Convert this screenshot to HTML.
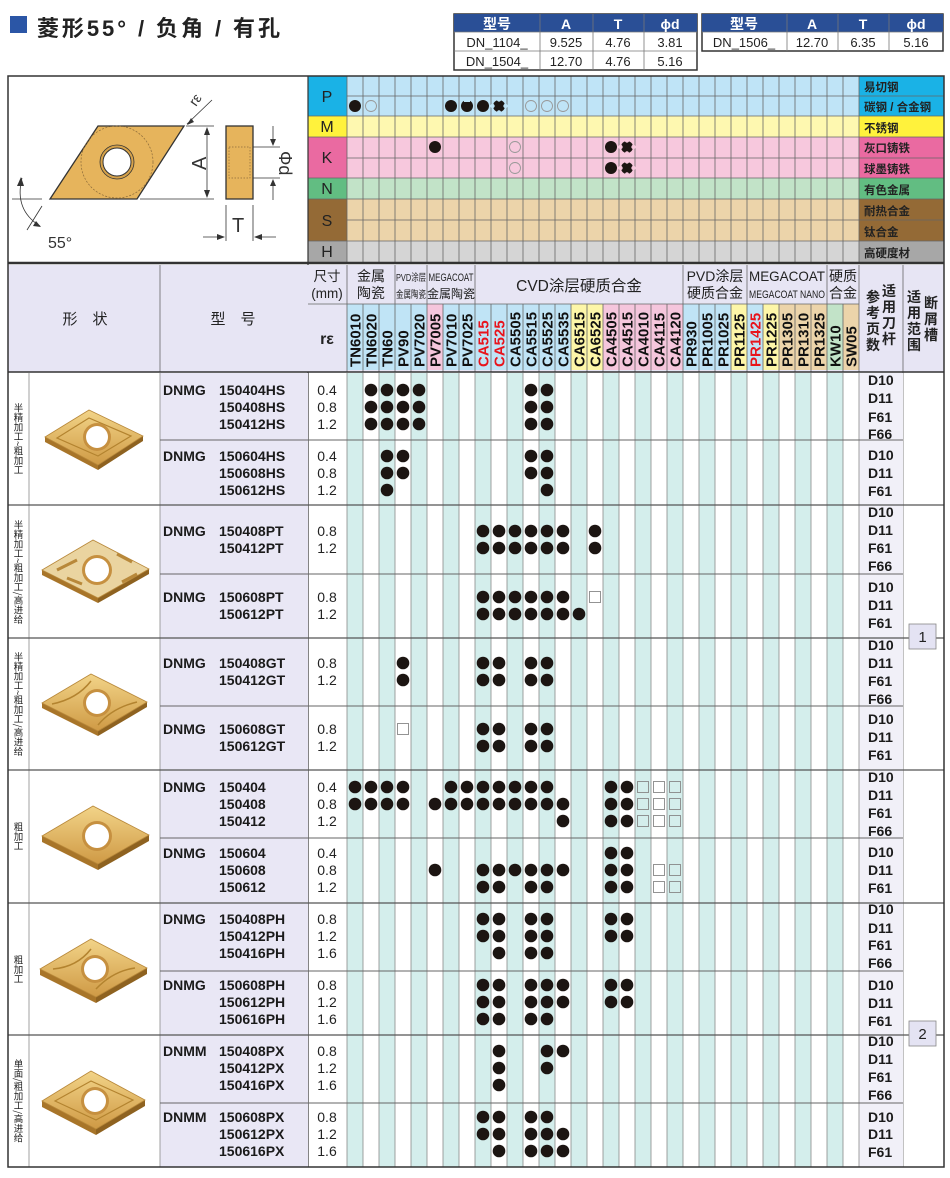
<!DOCTYPE html>
<html><head><meta charset="utf-8">
<style>
html,body{margin:0;padding:0;background:#fff;}
body{width:950px;height:1178px;position:relative;overflow:hidden;font-family:"Liberation Sans","Noto Sans CJK SC",sans-serif;}
svg{position:absolute;left:0;top:0;}
svg text{font-family:"Liberation Sans","Noto Sans CJK SC",sans-serif;}
.vl{position:absolute;left:8px;width:21px;display:flex;align-items:center;justify-content:center;}
.vl span{writing-mode:vertical-rl;font-size:9.5px;line-height:10px;color:#222;font-family:"Noto Sans CJK SC",sans-serif;}
</style></head><body>
<svg width="950" height="1178" viewBox="0 0 950 1178" xmlns="http://www.w3.org/2000/svg">
<defs>
<linearGradient id="gold" x1="0" y1="0" x2="0" y2="1">
<stop offset="0" stop-color="#f2d488"/><stop offset="1" stop-color="#cf9a45"/></linearGradient>
</defs>
<!-- title -->
<rect x="10" y="16" width="17" height="17" fill="#2b56a6"/>
<text x="37" y="36" font-size="22" font-weight="bold" fill="#222" textLength="243" font-family="Liberation Sans,Noto Sans CJK SC,sans-serif">菱形55° / 负角 / 有孔</text>

<!-- dim table 1 -->
<g font-size="13" text-anchor="middle">
<rect x="454" y="14" width="243" height="56" fill="#fff" stroke="#333" stroke-width="1.5"/>
<rect x="454" y="14" width="243" height="18" fill="#2a4f96"/>
<g stroke="#777" stroke-width="0.8"><line x1="454" y1="51" x2="697" y2="51"/><line x1="454" y1="32" x2="697" y2="32"/>
<line x1="540" y1="14" x2="540" y2="70"/><line x1="593" y1="14" x2="593" y2="70"/><line x1="644" y1="14" x2="644" y2="70"/></g>
<g fill="#fff" font-weight="bold" font-size="14"><text x="497" y="29">型号</text><text x="566" y="29">A</text><text x="618" y="29">T</text><text x="670" y="29">ϕd</text></g>
<g fill="#222"><text x="497" y="47">DN_1104_</text><text x="566" y="47">9.525</text><text x="618" y="47">4.76</text><text x="670" y="47">3.81</text>
<text x="497" y="66">DN_1504_</text><text x="566" y="66">12.70</text><text x="618" y="66">4.76</text><text x="670" y="66">5.16</text></g>
<!-- dim table 2 -->
<rect x="702" y="14" width="241" height="37" fill="#fff" stroke="#333" stroke-width="1.5"/>
<rect x="702" y="14" width="241" height="18" fill="#2a4f96"/>
<g stroke="#777" stroke-width="0.8"><line x1="702" y1="32" x2="943" y2="32"/>
<line x1="787" y1="14" x2="787" y2="51"/><line x1="838" y1="14" x2="838" y2="51"/><line x1="889" y1="14" x2="889" y2="51"/></g>
<g fill="#fff" font-weight="bold" font-size="14"><text x="744" y="29">型号</text><text x="812" y="29">A</text><text x="863" y="29">T</text><text x="916" y="29">ϕd</text></g>
<g fill="#222"><text x="744" y="47">DN_1506_</text><text x="812" y="47">12.70</text><text x="863" y="47">6.35</text><text x="916" y="47">5.16</text></g>
</g>

<!-- main frame bg -->
<rect x="8" y="76" width="936" height="1091" fill="#fff"/>

<!-- material grid -->
<g>
<rect x="347" y="76" width="512" height="40" fill="#bfe4f7"/>
<rect x="347" y="116" width="512" height="21" fill="#fef8b0"/>
<rect x="347" y="137" width="512" height="41" fill="#f7c8dd"/>
<rect x="347" y="178" width="512" height="21" fill="#c2e3c8"/>
<rect x="347" y="199" width="512" height="42" fill="#ecd4aa"/>
<rect x="347" y="241" width="512" height="21" fill="#d5d5d5"/>
<rect x="308" y="76" width="39" height="40" fill="#1ab2e6"/>
<rect x="308" y="116" width="39" height="21" fill="#fff23c"/>
<rect x="308" y="137" width="39" height="41" fill="#ea6aa1"/>
<rect x="308" y="178" width="39" height="21" fill="#62bd82"/>
<rect x="308" y="199" width="39" height="42" fill="#946a36"/>
<rect x="308" y="241" width="39" height="21" fill="#a7a7a7"/>
<rect x="859" y="76" width="85" height="40" fill="#1ab2e6"/>
<rect x="859" y="116" width="85" height="21" fill="#fff23c"/>
<rect x="859" y="137" width="85" height="41" fill="#ea6aa1"/>
<rect x="859" y="178" width="85" height="21" fill="#62bd82"/>
<rect x="859" y="199" width="85" height="42" fill="#946a36"/>
<rect x="859" y="241" width="85" height="21" fill="#a7a7a7"/>
<g stroke="#666" stroke-width="0.8">
<line x1="347" y1="96" x2="944" y2="96"/><line x1="308" y1="116" x2="944" y2="116"/><line x1="308" y1="137" x2="944" y2="137"/>
<line x1="347" y1="158" x2="944" y2="158"/><line x1="308" y1="178" x2="944" y2="178"/><line x1="308" y1="199" x2="944" y2="199"/>
<line x1="347" y1="220" x2="944" y2="220"/><line x1="308" y1="241" x2="944" y2="241"/>
<line x1="347" y1="76" x2="347" y2="262"/><line x1="363" y1="76" x2="363" y2="262"/><line x1="379" y1="76" x2="379" y2="262"/><line x1="395" y1="76" x2="395" y2="262"/>
<line x1="411" y1="76" x2="411" y2="262"/><line x1="427" y1="76" x2="427" y2="262"/><line x1="443" y1="76" x2="443" y2="262"/><line x1="459" y1="76" x2="459" y2="262"/>
<line x1="475" y1="76" x2="475" y2="262"/><line x1="491" y1="76" x2="491" y2="262"/><line x1="507" y1="76" x2="507" y2="262"/><line x1="523" y1="76" x2="523" y2="262"/>
<line x1="539" y1="76" x2="539" y2="262"/><line x1="555" y1="76" x2="555" y2="262"/><line x1="571" y1="76" x2="571" y2="262"/><line x1="587" y1="76" x2="587" y2="262"/>
<line x1="603" y1="76" x2="603" y2="262"/><line x1="619" y1="76" x2="619" y2="262"/><line x1="635" y1="76" x2="635" y2="262"/><line x1="651" y1="76" x2="651" y2="262"/>
<line x1="667" y1="76" x2="667" y2="262"/><line x1="683" y1="76" x2="683" y2="262"/><line x1="699" y1="76" x2="699" y2="262"/><line x1="715" y1="76" x2="715" y2="262"/>
<line x1="731" y1="76" x2="731" y2="262"/><line x1="747" y1="76" x2="747" y2="262"/><line x1="763" y1="76" x2="763" y2="262"/><line x1="779" y1="76" x2="779" y2="262"/>
<line x1="795" y1="76" x2="795" y2="262"/><line x1="811" y1="76" x2="811" y2="262"/><line x1="827" y1="76" x2="827" y2="262"/><line x1="843" y1="76" x2="843" y2="262"/>
<line x1="859" y1="76" x2="859" y2="262"/>
</g>
<g font-size="16" fill="#222" text-anchor="middle">
<text x="327" y="102">P</text><text x="327" y="132">M</text><text x="327" y="163">K</text><text x="327" y="194">N</text><text x="327" y="226">S</text><text x="327" y="257">H</text>
</g>
<g font-size="11.5" font-weight="bold" fill="#222">
<text x="864" y="91">易切钢</text><text x="864" y="111">碳钢 / 合金钢</text><text x="864" y="132">不锈钢</text>
<text x="864" y="152">灰口铸铁</text><text x="864" y="173">球墨铸铁</text><text x="864" y="194">有色金属</text>
<text x="864" y="215">耐热合金</text><text x="864" y="236">钛合金</text><text x="864" y="257">高硬度材</text>
</g>
<!-- material symbols -->
<g fill="#1c1512">
<circle cx="355" cy="106" r="6"/><circle cx="451" cy="106" r="6"/><circle cx="467" cy="106" r="6"/><circle cx="483" cy="106" r="6"/><circle cx="499" cy="106" r="6"/>
<circle cx="435" cy="147" r="6"/><circle cx="611" cy="147" r="6"/><circle cx="627" cy="147" r="6"/>
<circle cx="611" cy="168" r="6"/><circle cx="627" cy="168" r="6"/>
</g>
<g fill="#bfe4f7"><rect x="464" y="99" width="6" height="3"/><circle cx="499" cy="99.5" r="2.2"/><circle cx="499" cy="112.5" r="2.2"/><circle cx="492.5" cy="106" r="2.2"/><circle cx="505.5" cy="106" r="2.2"/></g>
<g fill="#f7c8dd"><circle cx="627" cy="140.5" r="2.2"/><circle cx="627" cy="153.5" r="2.2"/><circle cx="620.5" cy="147" r="2.2"/><circle cx="633.5" cy="147" r="2.2"/>
<circle cx="627" cy="161.5" r="2.2"/><circle cx="627" cy="174.5" r="2.2"/><circle cx="620.5" cy="168" r="2.2"/><circle cx="633.5" cy="168" r="2.2"/></g>
<g fill="none" stroke="#999" stroke-width="0.9">
<circle cx="371" cy="106" r="5.5"/><circle cx="531" cy="106" r="5.5"/><circle cx="547" cy="106" r="5.5"/><circle cx="563" cy="106" r="5.5"/>
<circle cx="515" cy="147" r="5.5"/><circle cx="515" cy="168" r="5.5"/>
</g>

<!-- top-left diagram -->
<polygon points="50,199 98,126 184,126 137,199" fill="#e6b45c" stroke="#333" stroke-width="1.3"/>
<circle cx="117" cy="162" r="36" fill="none" stroke="#8a6a3a" stroke-width="0.7" stroke-dasharray="2,1.5"/>
<circle cx="117" cy="162" r="17" fill="#d6a24a" stroke="#333" stroke-width="0.8"/>
<circle cx="117" cy="162" r="14" fill="#fff" stroke="#333" stroke-width="1"/>
<g stroke="#333" stroke-width="0.8" fill="none">
<line x1="186" y1="126" x2="214" y2="126"/><line x1="140" y1="199" x2="214" y2="199"/>
<line x1="207" y1="128" x2="207" y2="197"/>
<line x1="187" y1="124" x2="212" y2="100"/>
<line x1="253" y1="147" x2="280" y2="147"/><line x1="253" y1="178" x2="280" y2="178"/>
<line x1="273" y1="126" x2="273" y2="145"/><line x1="273" y1="180" x2="273" y2="200"/>
<line x1="226" y1="205" x2="226" y2="241"/><line x1="253" y1="205" x2="253" y2="241"/>
<line x1="203" y1="237" x2="224" y2="237"/><line x1="255" y1="237" x2="276" y2="237"/>
<line x1="12" y1="199" x2="42" y2="199"/>
<path d="M22,178 Q14,210 40,226"/>
<line x1="27" y1="230" x2="42" y2="206"/>
</g>
<g fill="#333">
<polygon points="207,127 204,135 210,135"/><polygon points="207,198 204,190 210,190"/>
<polygon points="187,125 191,118 194,122"/>
<polygon points="273,146 270,139 276,139"/><polygon points="273,179 270,186 276,186"/>
<polygon points="225,237 217,234 217,240"/><polygon points="254,237 262,234 262,240"/>
<polygon points="41,227 33,226 36,221"/><polygon points="17,186 21,177 24,186"/>
</g>
<rect x="226" y="126" width="27" height="73" fill="#e6b45c" stroke="#333" stroke-width="1.3"/>
<rect x="229" y="147" width="21" height="31" fill="none" stroke="#8a6a3a" stroke-width="0.7" stroke-dasharray="1.5,1.5"/>
<text x="0" y="0" font-size="20" fill="#333" transform="translate(206,170) rotate(-90)">A</text>
<text x="0" y="0" font-size="18" fill="#333" transform="translate(279,151) rotate(90)">Φd</text>
<text x="232" y="232" font-size="20" fill="#333">T</text>
<text x="0" y="0" font-size="14" fill="#333" transform="translate(196,107) rotate(-55)">rε</text>
<text x="48" y="248" font-size="16" fill="#333">55°</text>

<!-- frame lines top -->
<line x1="308" y1="76" x2="308" y2="1167" stroke="#333" stroke-width="1.2"/>
<line x1="8" y1="263" x2="944" y2="263" stroke="#333" stroke-width="2.5"/>

<!-- lower header -->
<rect x="8" y="265" width="936" height="107" fill="#e7e5f4"/>
<rect x="347" y="304" width="16" height="66" fill="#c0e4f6"/><rect x="363" y="304" width="16" height="66" fill="#c0e4f6"/><rect x="379" y="304" width="16" height="66" fill="#c0e4f6"/>
<rect x="395" y="304" width="16" height="66" fill="#c0e4f6"/><rect x="411" y="304" width="16" height="66" fill="#c0e4f6"/>
<rect x="427" y="304" width="16" height="66" fill="#f5c6dc"/>
<rect x="443" y="304" width="32" height="66" fill="#c0e4f6"/>
<rect x="475" y="304" width="96" height="66" fill="#c0e4f6"/>
<rect x="571" y="304" width="32" height="66" fill="#fdf6a8"/>
<rect x="603" y="304" width="80" height="66" fill="#f5c6dc"/>
<rect x="683" y="304" width="48" height="66" fill="#c0e4f6"/>
<rect x="731" y="304" width="16" height="66" fill="#fdf6a8"/>
<rect x="747" y="304" width="16" height="66" fill="#c0e4f6"/>
<rect x="763" y="304" width="16" height="66" fill="#fdf6a8"/>
<rect x="779" y="304" width="48" height="66" fill="#ecd4aa"/>
<rect x="827" y="304" width="16" height="66" fill="#c2e3c8"/>
<rect x="843" y="304" width="16" height="66" fill="#ecd4aa"/>
<g stroke="#666" stroke-width="0.8">
<line x1="308" y1="304" x2="859" y2="304"/>
<line x1="160" y1="265" x2="160" y2="372"/>
<line x1="347" y1="265" x2="347" y2="372"/><line x1="395" y1="265" x2="395" y2="372"/><line x1="427" y1="265" x2="427" y2="372"/><line x1="475" y1="265" x2="475" y2="372"/>
<line x1="683" y1="265" x2="683" y2="372"/><line x1="747" y1="265" x2="747" y2="372"/><line x1="827" y1="265" x2="827" y2="372"/><line x1="859" y1="265" x2="859" y2="372"/><line x1="903" y1="265" x2="903" y2="1167"/>
<line x1="363" y1="304" x2="363" y2="372"/><line x1="379" y1="304" x2="379" y2="372"/><line x1="411" y1="304" x2="411" y2="372"/><line x1="443" y1="304" x2="443" y2="372"/><line x1="459" y1="304" x2="459" y2="372"/>
<line x1="491" y1="304" x2="491" y2="372"/><line x1="507" y1="304" x2="507" y2="372"/><line x1="523" y1="304" x2="523" y2="372"/><line x1="539" y1="304" x2="539" y2="372"/><line x1="555" y1="304" x2="555" y2="372"/>
<line x1="571" y1="304" x2="571" y2="372"/><line x1="587" y1="304" x2="587" y2="372"/><line x1="603" y1="304" x2="603" y2="372"/><line x1="619" y1="304" x2="619" y2="372"/><line x1="635" y1="304" x2="635" y2="372"/>
<line x1="651" y1="304" x2="651" y2="372"/><line x1="667" y1="304" x2="667" y2="372"/><line x1="699" y1="304" x2="699" y2="372"/><line x1="715" y1="304" x2="715" y2="372"/><line x1="731" y1="304" x2="731" y2="372"/>
<line x1="763" y1="304" x2="763" y2="372"/><line x1="779" y1="304" x2="779" y2="372"/><line x1="795" y1="304" x2="795" y2="372"/><line x1="811" y1="304" x2="811" y2="372"/><line x1="843" y1="304" x2="843" y2="372"/>
</g>
<g fill="#222" text-anchor="middle">
<text x="85" y="324" font-size="15">形　状</text>
<text x="233" y="324" font-size="15">型　号</text>
<text x="327" y="281" font-size="13.5">尺寸</text><text x="327" y="298" font-size="13.5">(mm)</text>
<text x="327" y="344" font-size="16" font-weight="bold">rε</text>
<text x="371" y="281" font-size="14">金属</text><text x="371" y="298" font-size="14">陶瓷</text>
<text x="411" y="281" font-size="10" textLength="30" lengthAdjust="spacingAndGlyphs">PVD涂层</text><text x="411" y="298" font-size="10" textLength="30" lengthAdjust="spacingAndGlyphs">金属陶瓷</text>
<text x="451" y="281" font-size="11" textLength="45" lengthAdjust="spacingAndGlyphs">MEGACOAT</text><text x="451" y="298" font-size="12">金属陶瓷</text>
<text x="579" y="291" font-size="15.5">CVD涂层硬质合金</text>
<text x="715" y="281" font-size="14">PVD涂层</text><text x="715" y="298" font-size="14">硬质合金</text>
<text x="787" y="281" font-size="14" textLength="76" lengthAdjust="spacingAndGlyphs">MEGACOAT</text><text x="787" y="298" font-size="11" textLength="76" lengthAdjust="spacingAndGlyphs">MEGACOAT NANO</text>
<text x="843" y="281" font-size="14">硬质</text><text x="843" y="298" font-size="14">合金</text>
<g font-size="14" font-weight="bold">
<text x="873" y="302">参</text><text x="873" y="318">考</text><text x="873" y="334">页</text><text x="873" y="350">数</text>
<text x="889" y="296">适</text><text x="889" y="312">用</text><text x="889" y="328">刀</text><text x="889" y="344">杆</text>
<text x="914" y="302">适</text><text x="914" y="318">用</text><text x="914" y="334">范</text><text x="914" y="350">围</text>
<text x="931" y="308">断</text><text x="931" y="324">屑</text><text x="931" y="340">槽</text>
</g>
</g>
<g font-size="15" font-weight="bold" fill="#111">
<text transform="translate(360.5,367) rotate(-90)">TN6010</text>
<text transform="translate(376.5,367) rotate(-90)">TN6020</text>
<text transform="translate(392.5,367) rotate(-90)">TN60</text>
<text transform="translate(408.5,367) rotate(-90)">PV90</text>
<text transform="translate(424.5,367) rotate(-90)">PV7020</text>
<text transform="translate(440.5,367) rotate(-90)">PV7005</text>
<text transform="translate(456.5,367) rotate(-90)">PV7010</text>
<text transform="translate(472.5,367) rotate(-90)">PV7025</text>
<text transform="translate(488.5,367) rotate(-90)" fill="#e8141c">CA515</text>
<text transform="translate(504.5,367) rotate(-90)" fill="#e8141c">CA525</text>
<text transform="translate(520.5,367) rotate(-90)">CA5505</text>
<text transform="translate(536.5,367) rotate(-90)">CA5515</text>
<text transform="translate(552.5,367) rotate(-90)">CA5525</text>
<text transform="translate(568.5,367) rotate(-90)">CA5535</text>
<text transform="translate(584.5,367) rotate(-90)">CA6515</text>
<text transform="translate(600.5,367) rotate(-90)">CA6525</text>
<text transform="translate(616.5,367) rotate(-90)">CA4505</text>
<text transform="translate(632.5,367) rotate(-90)">CA4515</text>
<text transform="translate(648.5,367) rotate(-90)">CA4010</text>
<text transform="translate(664.5,367) rotate(-90)">CA4115</text>
<text transform="translate(680.5,367) rotate(-90)">CA4120</text>
<text transform="translate(696.5,367) rotate(-90)">PR930</text>
<text transform="translate(712.5,367) rotate(-90)">PR1005</text>
<text transform="translate(728.5,367) rotate(-90)">PR1025</text>
<text transform="translate(744.5,367) rotate(-90)">PR1125</text>
<text transform="translate(760.5,367) rotate(-90)" fill="#e8141c">PR1425</text>
<text transform="translate(776.5,367) rotate(-90)">PR1225</text>
<text transform="translate(792.5,367) rotate(-90)">PR1305</text>
<text transform="translate(808.5,367) rotate(-90)">PR1310</text>
<text transform="translate(824.5,367) rotate(-90)">PR1325</text>
<text transform="translate(840.5,367) rotate(-90)">KW10</text>
<text transform="translate(856.5,367) rotate(-90)">SW05</text>
</g>
<line x1="8" y1="372" x2="944" y2="372" stroke="#333" stroke-width="1.5"/>

<!-- body backgrounds -->
<rect x="160" y="373" width="148" height="794" fill="#e9e7f5"/>
<rect x="859" y="373" width="44" height="794" fill="#f1f0f8"/>
<g fill="#d4eeec">
<rect x="347" y="373" width="16" height="794"/><rect x="379" y="373" width="16" height="794"/><rect x="411" y="373" width="16" height="794"/><rect x="443" y="373" width="16" height="794"/>
<rect x="475" y="373" width="16" height="794"/><rect x="507" y="373" width="16" height="794"/><rect x="539" y="373" width="16" height="794"/><rect x="571" y="373" width="16" height="794"/>
<rect x="603" y="373" width="16" height="794"/><rect x="635" y="373" width="16" height="794"/><rect x="667" y="373" width="16" height="794"/><rect x="699" y="373" width="16" height="794"/>
<rect x="731" y="373" width="16" height="794"/><rect x="763" y="373" width="16" height="794"/><rect x="795" y="373" width="16" height="794"/><rect x="827" y="373" width="16" height="794"/>
</g>
<g stroke="#8a8a8a" stroke-width="0.8">
<line x1="29" y1="373" x2="29" y2="1167"/><line x1="160" y1="373" x2="160" y2="1167"/>
<line x1="347" y1="373" x2="347" y2="1167"/><line x1="363" y1="373" x2="363" y2="1167"/><line x1="379" y1="373" x2="379" y2="1167"/><line x1="395" y1="373" x2="395" y2="1167"/>
<line x1="411" y1="373" x2="411" y2="1167"/><line x1="427" y1="373" x2="427" y2="1167"/><line x1="443" y1="373" x2="443" y2="1167"/><line x1="459" y1="373" x2="459" y2="1167"/>
<line x1="475" y1="373" x2="475" y2="1167"/><line x1="491" y1="373" x2="491" y2="1167"/><line x1="507" y1="373" x2="507" y2="1167"/><line x1="523" y1="373" x2="523" y2="1167"/>
<line x1="539" y1="373" x2="539" y2="1167"/><line x1="555" y1="373" x2="555" y2="1167"/><line x1="571" y1="373" x2="571" y2="1167"/><line x1="587" y1="373" x2="587" y2="1167"/>
<line x1="603" y1="373" x2="603" y2="1167"/><line x1="619" y1="373" x2="619" y2="1167"/><line x1="635" y1="373" x2="635" y2="1167"/><line x1="651" y1="373" x2="651" y2="1167"/>
<line x1="667" y1="373" x2="667" y2="1167"/><line x1="683" y1="373" x2="683" y2="1167"/><line x1="699" y1="373" x2="699" y2="1167"/><line x1="715" y1="373" x2="715" y2="1167"/>
<line x1="731" y1="373" x2="731" y2="1167"/><line x1="747" y1="373" x2="747" y2="1167"/><line x1="763" y1="373" x2="763" y2="1167"/><line x1="779" y1="373" x2="779" y2="1167"/>
<line x1="795" y1="373" x2="795" y2="1167"/><line x1="811" y1="373" x2="811" y2="1167"/><line x1="827" y1="373" x2="827" y2="1167"/><line x1="843" y1="373" x2="843" y2="1167"/>
<line x1="859" y1="373" x2="859" y2="1167"/>
</g>
<g stroke="#666" stroke-width="0.9">
<line x1="160" y1="440" x2="903" y2="440"/><line x1="160" y1="574" x2="903" y2="574"/><line x1="160" y1="706" x2="903" y2="706"/>
<line x1="160" y1="838" x2="903" y2="838"/><line x1="160" y1="971" x2="903" y2="971"/><line x1="160" y1="1103" x2="903" y2="1103"/>
</g>
<g stroke="#555" stroke-width="1.2">
<line x1="8" y1="505" x2="944" y2="505"/><line x1="8" y1="638" x2="944" y2="638"/><line x1="8" y1="770" x2="944" y2="770"/>
<line x1="8" y1="903" x2="944" y2="903"/><line x1="8" y1="1035" x2="944" y2="1035"/>
</g>

<!-- inserts -->
<g id="ins">
<g transform="translate(97,437)">
<polygon points="-52,0 1,28 1,33 -52,5" fill="#a87529"/><polygon points="1,28 46,-1 46,4 1,33" fill="#8e6220"/>
<polygon points="-52,0 -8,-27 46,-1 1,28" fill="url(#gold)" stroke="#b8883a" stroke-width="0.8"/>
<path d="M-40,1 L-8,-19 L34,-1 L1,19 Z" fill="none" stroke="#b3832f" stroke-width="1.2"/>
<circle r="14" fill="#c69040"/><circle r="11" fill="#fff"/>
</g>
<g transform="translate(97,570)">
<polygon points="-55,0 1,28 1,33 -55,5" fill="#a87529"/><polygon points="1,28 52,-1 52,4 1,33" fill="#8e6220"/>
<polygon points="-55,0 -4,-30 52,-1 1,28" fill="#ead4a0" stroke="#b8883a" stroke-width="0.8"/>
<path d="M-40,0 L-20,-10 M-30,8 L-15,14 M20,-16 L35,-8 M25,12 L40,4" stroke="#b8883a" stroke-width="3"/>
<circle r="15" fill="#c69040"/><circle r="12" fill="#fff"/>
</g>
<g transform="translate(97,703)">
<polygon points="-55,0 1,28 1,33 -55,5" fill="#a87529"/><polygon points="1,28 50,-1 50,4 1,33" fill="#8e6220"/>
<polygon points="-55,0 -6,-29 50,-1 1,28" fill="url(#gold)" stroke="#b8883a" stroke-width="0.8"/>
<path d="M-45,1 Q-20,-4 -6,-22 M40,-1 Q15,5 1,22" fill="none" stroke="#b3832f" stroke-width="1.5"/>
<circle r="14" fill="#c69040"/><circle r="11" fill="#fff"/>
</g>
<g transform="translate(97,836)">
<polygon points="-55,0 1,28 1,34 -55,6" fill="#a87529"/><polygon points="1,28 52,-1 52,5 1,34" fill="#8e6220"/>
<polygon points="-55,0 -4,-30 52,-1 1,28" fill="url(#gold)" stroke="#b8883a" stroke-width="0.8"/>
<circle r="15" fill="#c69040"/><circle r="12" fill="#fff"/>
</g>
<g transform="translate(95,969)">
<polygon points="-55,0 1,28 1,34 -55,6" fill="#a87529"/><polygon points="1,28 52,-1 52,5 1,34" fill="#8e6220"/>
<polygon points="-55,0 -4,-30 52,-1 1,28" fill="url(#gold)" stroke="#b8883a" stroke-width="0.8"/>
<path d="M-42,0 Q-18,-2 -4,-20 M40,-1 Q18,2 1,20" fill="none" stroke="#b3832f" stroke-width="1.5"/>
<circle r="14" fill="#c69040"/><circle r="11" fill="#fff"/>
</g>
<g transform="translate(95,1101)">
<polygon points="-53,0 1,28 1,34 -53,6" fill="#a87529"/><polygon points="1,28 50,-1 50,5 1,34" fill="#8e6220"/>
<polygon points="-53,0 -4,-30 50,-1 1,28" fill="url(#gold)" stroke="#b8883a" stroke-width="0.8"/>
<path d="M-40,0 L-4,-20 L38,-1 L1,19 Z" fill="none" stroke="#b3832f" stroke-width="1.2"/>
<circle r="14" fill="#c69040"/><circle r="11" fill="#fff"/>
</g>
</g>

<!-- 型号 text -->
<g font-size="14" font-weight="bold" fill="#1a1a1a">
<text x="163" y="395">DNMG</text><text x="219" y="395">150404HS</text><text x="219" y="412">150408HS</text><text x="219" y="429">150412HS</text>
<text x="163" y="461">DNMG</text><text x="219" y="461">150604HS</text><text x="219" y="478">150608HS</text><text x="219" y="495">150612HS</text>
<text x="163" y="536">DNMG</text><text x="219" y="536">150408PT</text><text x="219" y="553">150412PT</text>
<text x="163" y="602">DNMG</text><text x="219" y="602">150608PT</text><text x="219" y="619">150612PT</text>
<text x="163" y="668">DNMG</text><text x="219" y="668">150408GT</text><text x="219" y="685">150412GT</text>
<text x="163" y="734">DNMG</text><text x="219" y="734">150608GT</text><text x="219" y="751">150612GT</text>
<text x="163" y="792">DNMG</text><text x="219" y="792">150404</text><text x="219" y="809">150408</text><text x="219" y="826">150412</text>
<text x="163" y="858">DNMG</text><text x="219" y="858">150604</text><text x="219" y="875">150608</text><text x="219" y="892">150612</text>
<text x="163" y="924">DNMG</text><text x="219" y="924">150408PH</text><text x="219" y="941">150412PH</text><text x="219" y="958">150416PH</text>
<text x="163" y="990">DNMG</text><text x="219" y="990">150608PH</text><text x="219" y="1007">150612PH</text><text x="219" y="1024">150616PH</text>
<text x="163" y="1056">DNMM</text><text x="219" y="1056">150408PX</text><text x="219" y="1073">150412PX</text><text x="219" y="1090">150416PX</text>
<text x="163" y="1122">DNMM</text><text x="219" y="1122">150608PX</text><text x="219" y="1139">150612PX</text><text x="219" y="1156">150616PX</text>
</g>
<g font-size="14" fill="#222" text-anchor="middle">
<text x="327" y="395">0.4</text><text x="327" y="412">0.8</text><text x="327" y="429">1.2</text>
<text x="327" y="461">0.4</text><text x="327" y="478">0.8</text><text x="327" y="495">1.2</text>
<text x="327" y="536">0.8</text><text x="327" y="553">1.2</text>
<text x="327" y="602">0.8</text><text x="327" y="619">1.2</text>
<text x="327" y="668">0.8</text><text x="327" y="685">1.2</text>
<text x="327" y="734">0.8</text><text x="327" y="751">1.2</text>
<text x="327" y="792">0.4</text><text x="327" y="809">0.8</text><text x="327" y="826">1.2</text>
<text x="327" y="858">0.4</text><text x="327" y="875">0.8</text><text x="327" y="892">1.2</text>
<text x="327" y="924">0.8</text><text x="327" y="941">1.2</text><text x="327" y="958">1.6</text>
<text x="327" y="990">0.8</text><text x="327" y="1007">1.2</text><text x="327" y="1024">1.6</text>
<text x="327" y="1056">0.8</text><text x="327" y="1073">1.2</text><text x="327" y="1090">1.6</text>
<text x="327" y="1122">0.8</text><text x="327" y="1139">1.2</text><text x="327" y="1156">1.6</text>
</g>
<!-- ref pages -->
<g font-size="14" font-weight="bold" fill="#1a1a1a">
<text x="868" y="385">D10</text><text x="868" y="403">D11</text><text x="868" y="422">F61</text><text x="868" y="439">F66</text>
<text x="868" y="460">D10</text><text x="868" y="478">D11</text><text x="868" y="496">F61</text>
<text x="868" y="517">D10</text><text x="868" y="535">D11</text><text x="868" y="553">F61</text><text x="868" y="571">F66</text>
<text x="868" y="592">D10</text><text x="868" y="610">D11</text><text x="868" y="628">F61</text>
<text x="868" y="650">D10</text><text x="868" y="668">D11</text><text x="868" y="686">F61</text><text x="868" y="704">F66</text>
<text x="868" y="724">D10</text><text x="868" y="742">D11</text><text x="868" y="760">F61</text>
<text x="868" y="782">D10</text><text x="868" y="800">D11</text><text x="868" y="818">F61</text><text x="868" y="836">F66</text>
<text x="868" y="857">D10</text><text x="868" y="875">D11</text><text x="868" y="893">F61</text>
<text x="868" y="914">D10</text><text x="868" y="933">D11</text><text x="868" y="950">F61</text><text x="868" y="968">F66</text>
<text x="868" y="990">D10</text><text x="868" y="1008">D11</text><text x="868" y="1026">F61</text>
<text x="868" y="1046">D10</text><text x="868" y="1064">D11</text><text x="868" y="1082">F61</text><text x="868" y="1100">F66</text>
<text x="868" y="1122">D10</text><text x="868" y="1139">D11</text><text x="868" y="1157">F61</text>
</g>
<rect x="909" y="624" width="27" height="25" fill="#e4e3f3" stroke="#888" stroke-width="0.8"/>
<text x="922.5" y="642" font-size="15" text-anchor="middle" fill="#222">1</text>
<rect x="909" y="1021" width="27" height="25" fill="#e4e3f3" stroke="#888" stroke-width="0.8"/>
<text x="922.5" y="1039" font-size="15" text-anchor="middle" fill="#222">2</text>

<!-- dots -->
<g fill="#1c1512">
<circle cx="371" cy="390" r="6.3"/><circle cx="387" cy="390" r="6.3"/><circle cx="403" cy="390" r="6.3"/><circle cx="419" cy="390" r="6.3"/><circle cx="531" cy="390" r="6.3"/><circle cx="547" cy="390" r="6.3"/>
<circle cx="371" cy="407" r="6.3"/><circle cx="387" cy="407" r="6.3"/><circle cx="403" cy="407" r="6.3"/><circle cx="419" cy="407" r="6.3"/><circle cx="531" cy="407" r="6.3"/><circle cx="547" cy="407" r="6.3"/>
<circle cx="371" cy="424" r="6.3"/><circle cx="387" cy="424" r="6.3"/><circle cx="403" cy="424" r="6.3"/><circle cx="419" cy="424" r="6.3"/><circle cx="531" cy="424" r="6.3"/><circle cx="547" cy="424" r="6.3"/>
<circle cx="387" cy="456" r="6.3"/><circle cx="403" cy="456" r="6.3"/><circle cx="531" cy="456" r="6.3"/><circle cx="547" cy="456" r="6.3"/>
<circle cx="387" cy="473" r="6.3"/><circle cx="403" cy="473" r="6.3"/><circle cx="531" cy="473" r="6.3"/><circle cx="547" cy="473" r="6.3"/>
<circle cx="387" cy="490" r="6.3"/><circle cx="547" cy="490" r="6.3"/>
<circle cx="483" cy="531" r="6.3"/><circle cx="499" cy="531" r="6.3"/><circle cx="515" cy="531" r="6.3"/><circle cx="531" cy="531" r="6.3"/><circle cx="547" cy="531" r="6.3"/><circle cx="563" cy="531" r="6.3"/><circle cx="595" cy="531" r="6.3"/>
<circle cx="483" cy="548" r="6.3"/><circle cx="499" cy="548" r="6.3"/><circle cx="515" cy="548" r="6.3"/><circle cx="531" cy="548" r="6.3"/><circle cx="547" cy="548" r="6.3"/><circle cx="563" cy="548" r="6.3"/><circle cx="595" cy="548" r="6.3"/>
<circle cx="483" cy="597" r="6.3"/><circle cx="499" cy="597" r="6.3"/><circle cx="515" cy="597" r="6.3"/><circle cx="531" cy="597" r="6.3"/><circle cx="547" cy="597" r="6.3"/><circle cx="563" cy="597" r="6.3"/>
<circle cx="483" cy="614" r="6.3"/><circle cx="499" cy="614" r="6.3"/><circle cx="515" cy="614" r="6.3"/><circle cx="531" cy="614" r="6.3"/><circle cx="547" cy="614" r="6.3"/><circle cx="563" cy="614" r="6.3"/><circle cx="579" cy="614" r="6.3"/>
<circle cx="403" cy="663" r="6.3"/><circle cx="483" cy="663" r="6.3"/><circle cx="499" cy="663" r="6.3"/><circle cx="531" cy="663" r="6.3"/><circle cx="547" cy="663" r="6.3"/>
<circle cx="403" cy="680" r="6.3"/><circle cx="483" cy="680" r="6.3"/><circle cx="499" cy="680" r="6.3"/><circle cx="531" cy="680" r="6.3"/><circle cx="547" cy="680" r="6.3"/>
<circle cx="483" cy="729" r="6.3"/><circle cx="499" cy="729" r="6.3"/><circle cx="531" cy="729" r="6.3"/><circle cx="547" cy="729" r="6.3"/>
<circle cx="483" cy="746" r="6.3"/><circle cx="499" cy="746" r="6.3"/><circle cx="531" cy="746" r="6.3"/><circle cx="547" cy="746" r="6.3"/>
<circle cx="355" cy="787" r="6.3"/><circle cx="371" cy="787" r="6.3"/><circle cx="387" cy="787" r="6.3"/><circle cx="403" cy="787" r="6.3"/><circle cx="451" cy="787" r="6.3"/><circle cx="467" cy="787" r="6.3"/><circle cx="483" cy="787" r="6.3"/><circle cx="499" cy="787" r="6.3"/><circle cx="515" cy="787" r="6.3"/><circle cx="531" cy="787" r="6.3"/><circle cx="547" cy="787" r="6.3"/><circle cx="611" cy="787" r="6.3"/><circle cx="627" cy="787" r="6.3"/>
<circle cx="355" cy="804" r="6.3"/><circle cx="371" cy="804" r="6.3"/><circle cx="387" cy="804" r="6.3"/><circle cx="403" cy="804" r="6.3"/><circle cx="435" cy="804" r="6.3"/><circle cx="451" cy="804" r="6.3"/><circle cx="467" cy="804" r="6.3"/><circle cx="483" cy="804" r="6.3"/><circle cx="499" cy="804" r="6.3"/><circle cx="515" cy="804" r="6.3"/><circle cx="531" cy="804" r="6.3"/><circle cx="547" cy="804" r="6.3"/><circle cx="563" cy="804" r="6.3"/><circle cx="611" cy="804" r="6.3"/><circle cx="627" cy="804" r="6.3"/>
<circle cx="563" cy="821" r="6.3"/><circle cx="611" cy="821" r="6.3"/><circle cx="627" cy="821" r="6.3"/>
<circle cx="611" cy="853" r="6.3"/><circle cx="627" cy="853" r="6.3"/>
<circle cx="435" cy="870" r="6.3"/><circle cx="483" cy="870" r="6.3"/><circle cx="499" cy="870" r="6.3"/><circle cx="515" cy="870" r="6.3"/><circle cx="531" cy="870" r="6.3"/><circle cx="547" cy="870" r="6.3"/><circle cx="563" cy="870" r="6.3"/><circle cx="611" cy="870" r="6.3"/><circle cx="627" cy="870" r="6.3"/>
<circle cx="483" cy="887" r="6.3"/><circle cx="499" cy="887" r="6.3"/><circle cx="531" cy="887" r="6.3"/><circle cx="547" cy="887" r="6.3"/><circle cx="611" cy="887" r="6.3"/><circle cx="627" cy="887" r="6.3"/>
<circle cx="483" cy="919" r="6.3"/><circle cx="499" cy="919" r="6.3"/><circle cx="531" cy="919" r="6.3"/><circle cx="547" cy="919" r="6.3"/><circle cx="611" cy="919" r="6.3"/><circle cx="627" cy="919" r="6.3"/>
<circle cx="483" cy="936" r="6.3"/><circle cx="499" cy="936" r="6.3"/><circle cx="531" cy="936" r="6.3"/><circle cx="547" cy="936" r="6.3"/><circle cx="611" cy="936" r="6.3"/><circle cx="627" cy="936" r="6.3"/>
<circle cx="499" cy="953" r="6.3"/><circle cx="531" cy="953" r="6.3"/><circle cx="547" cy="953" r="6.3"/>
<circle cx="483" cy="985" r="6.3"/><circle cx="499" cy="985" r="6.3"/><circle cx="531" cy="985" r="6.3"/><circle cx="547" cy="985" r="6.3"/><circle cx="563" cy="985" r="6.3"/><circle cx="611" cy="985" r="6.3"/><circle cx="627" cy="985" r="6.3"/>
<circle cx="483" cy="1002" r="6.3"/><circle cx="499" cy="1002" r="6.3"/><circle cx="531" cy="1002" r="6.3"/><circle cx="547" cy="1002" r="6.3"/><circle cx="563" cy="1002" r="6.3"/><circle cx="611" cy="1002" r="6.3"/><circle cx="627" cy="1002" r="6.3"/>
<circle cx="483" cy="1019" r="6.3"/><circle cx="499" cy="1019" r="6.3"/><circle cx="531" cy="1019" r="6.3"/><circle cx="547" cy="1019" r="6.3"/>
<circle cx="499" cy="1051" r="6.3"/><circle cx="547" cy="1051" r="6.3"/><circle cx="563" cy="1051" r="6.3"/>
<circle cx="499" cy="1068" r="6.3"/><circle cx="547" cy="1068" r="6.3"/>
<circle cx="499" cy="1085" r="6.3"/>
<circle cx="483" cy="1117" r="6.3"/><circle cx="499" cy="1117" r="6.3"/><circle cx="531" cy="1117" r="6.3"/><circle cx="547" cy="1117" r="6.3"/>
<circle cx="483" cy="1134" r="6.3"/><circle cx="499" cy="1134" r="6.3"/><circle cx="531" cy="1134" r="6.3"/><circle cx="547" cy="1134" r="6.3"/><circle cx="563" cy="1134" r="6.3"/>
<circle cx="499" cy="1151" r="6.3"/><circle cx="531" cy="1151" r="6.3"/><circle cx="547" cy="1151" r="6.3"/><circle cx="563" cy="1151" r="6.3"/>
</g>
<g fill="none" stroke="#888" stroke-width="0.9">
<rect x="589.5" y="591.5" width="11" height="11"/>
<rect x="397.5" y="723.5" width="11" height="11"/>
<rect x="637.5" y="781.5" width="11" height="11"/><rect x="653.5" y="781.5" width="11" height="11"/><rect x="669.5" y="781.5" width="11" height="11"/>
<rect x="637.5" y="798.5" width="11" height="11"/><rect x="653.5" y="798.5" width="11" height="11"/><rect x="669.5" y="798.5" width="11" height="11"/>
<rect x="637.5" y="815.5" width="11" height="11"/><rect x="653.5" y="815.5" width="11" height="11"/><rect x="669.5" y="815.5" width="11" height="11"/>
<rect x="653.5" y="864.5" width="11" height="11"/><rect x="669.5" y="864.5" width="11" height="11"/>
<rect x="653.5" y="881.5" width="11" height="11"/><rect x="669.5" y="881.5" width="11" height="11"/>
</g>

<!-- outer frame -->
<rect x="8" y="76" width="936" height="1091" fill="none" stroke="#333" stroke-width="1.5"/>
</svg>

<div class="vl" style="top:372px;height:133px"><span>半精加工~粗加工</span></div>
<div class="vl" style="top:505px;height:133px"><span>半精加工~粗加工/高进给</span></div>
<div class="vl" style="top:638px;height:132px"><span>半精加工~粗加工/高进给</span></div>
<div class="vl" style="top:770px;height:133px"><span>粗加工</span></div>
<div class="vl" style="top:903px;height:132px"><span>粗加工</span></div>
<div class="vl" style="top:1035px;height:132px"><span>单面/粗加工/高进给</span></div>
</body></html>
